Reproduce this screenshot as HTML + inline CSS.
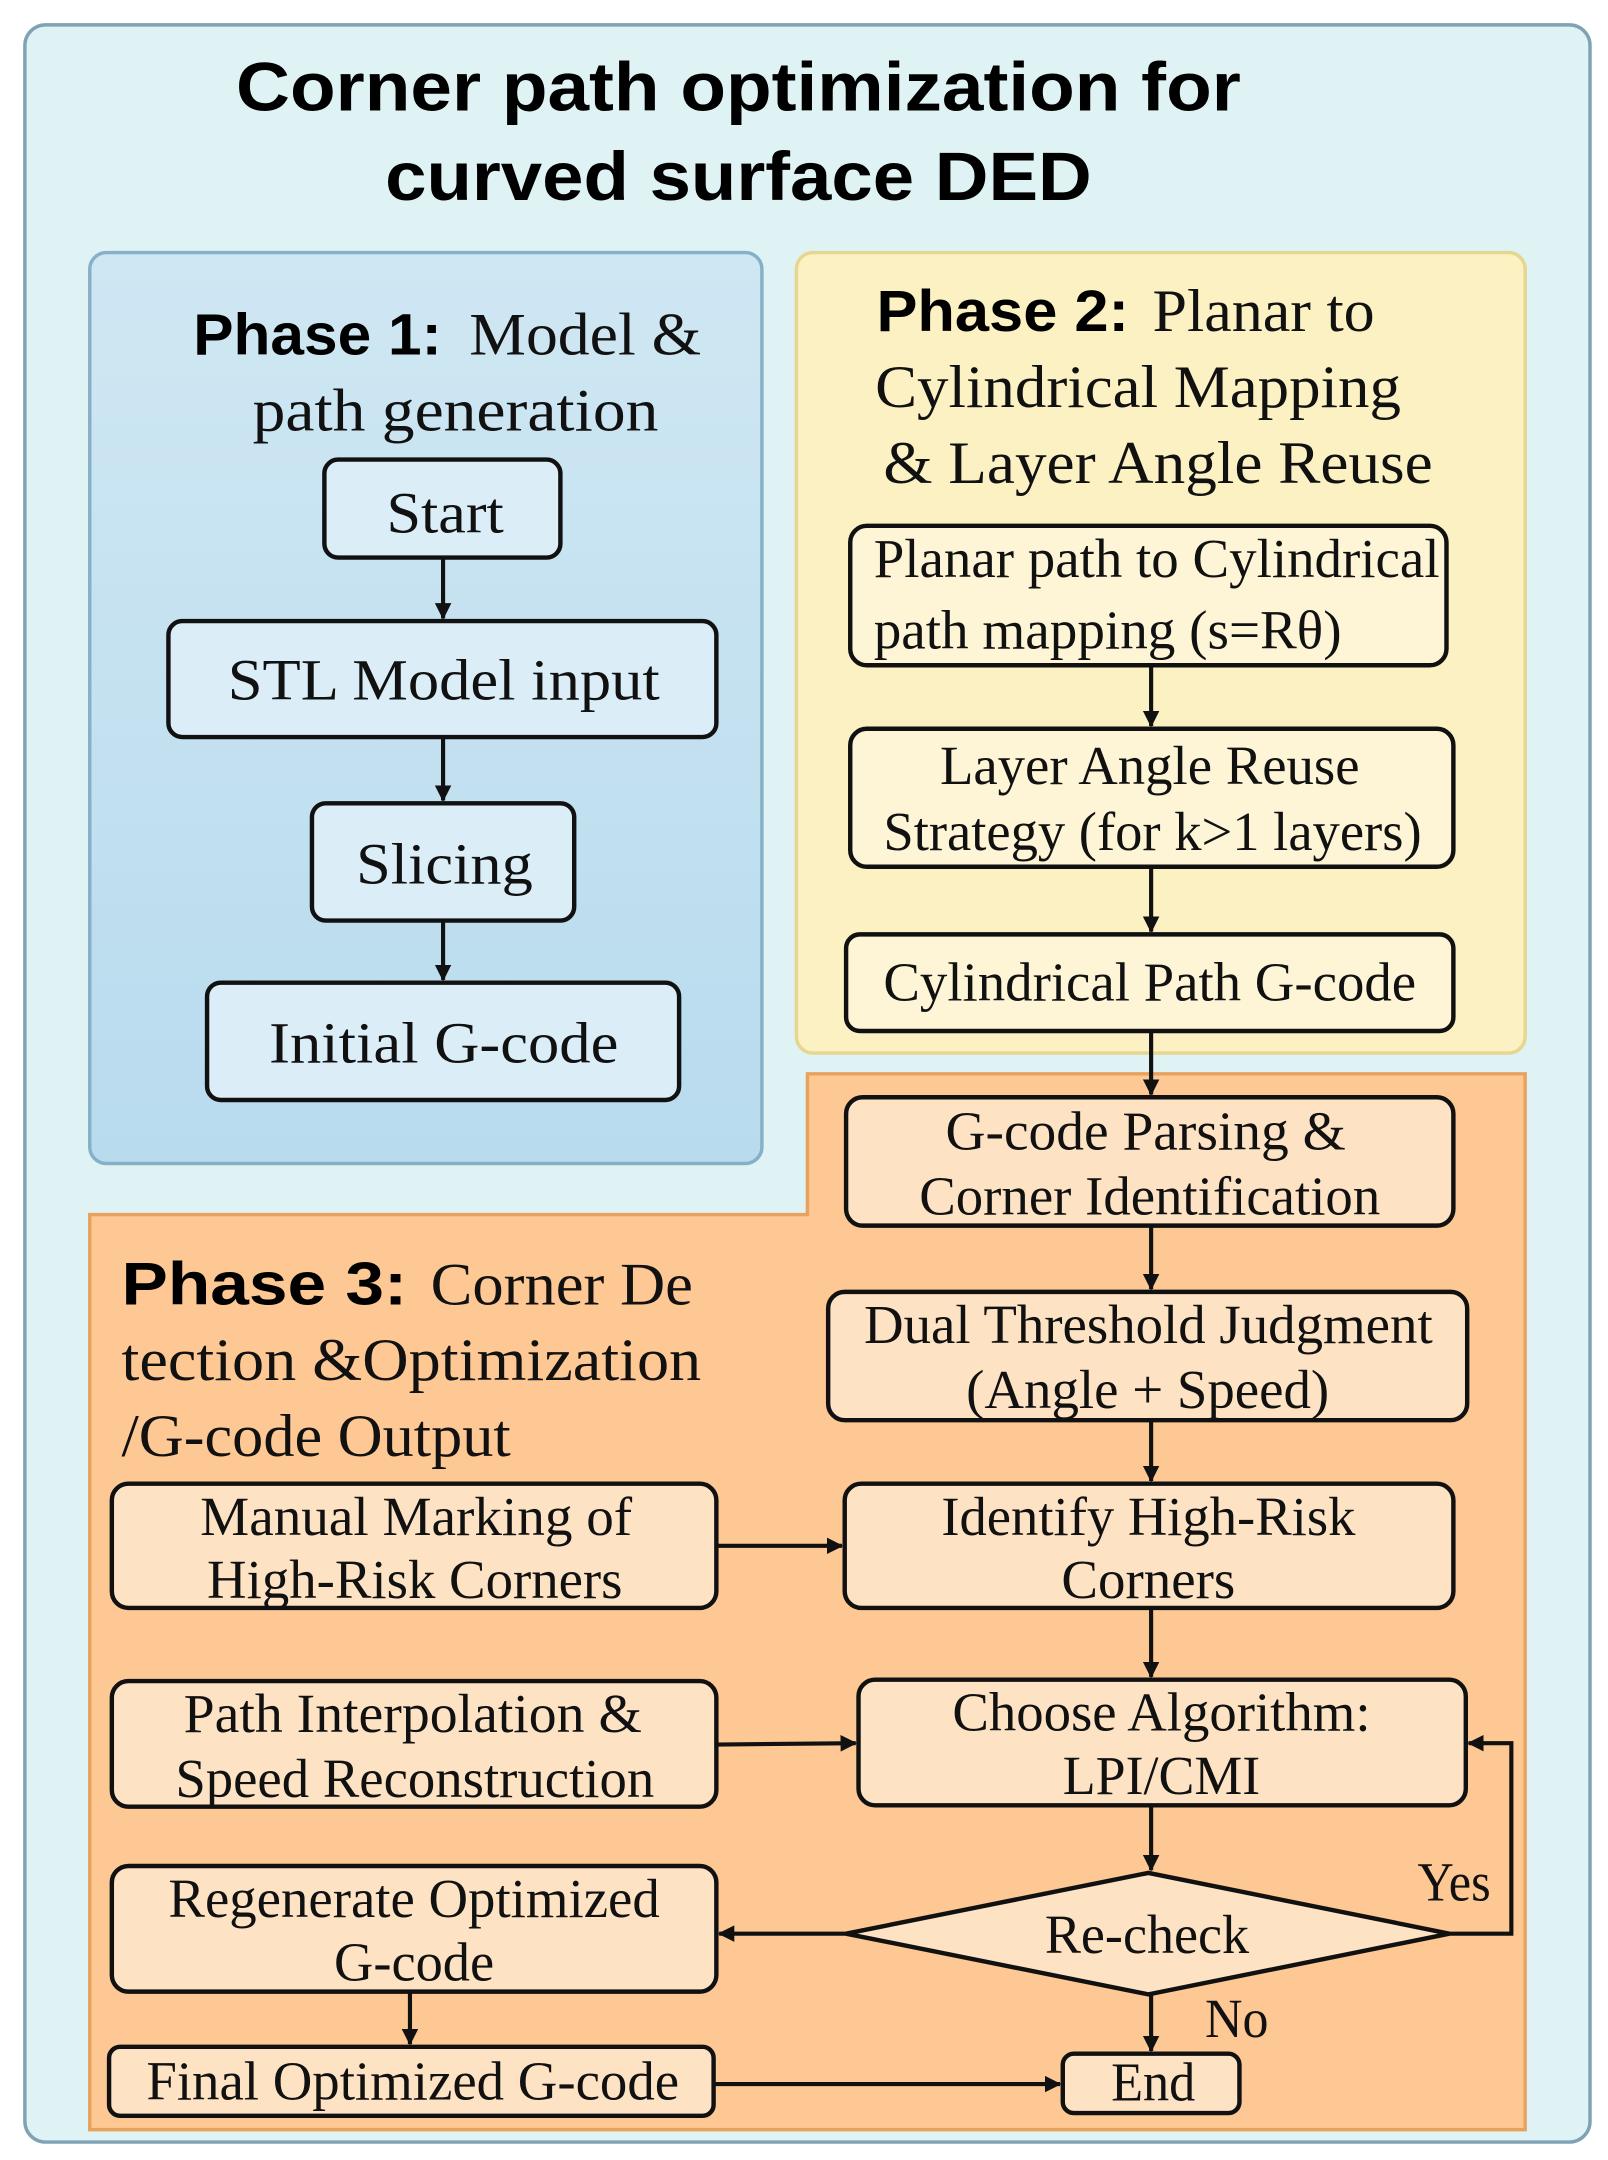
<!DOCTYPE html>
<html><head><meta charset="utf-8"><style>
html,body{margin:0;padding:0;background:#fff;}
svg{display:block;}
.t{font-family:"Liberation Serif",serif;fill:#111;}
.b{font-family:"Liberation Sans",sans-serif;font-weight:bold;fill:#000;}
.box{stroke:#111;stroke-width:3.2;}
.ln{stroke:#111;stroke-width:3;fill:none;}
</style></head><body>
<svg width="1608" height="2160" viewBox="0 0 1165 1565" xmlns="http://www.w3.org/2000/svg">
<defs>
<marker id="a" markerWidth="12" markerHeight="12" refX="11" refY="6" orient="auto" markerUnits="userSpaceOnUse"><path d="M0,0 L12,6 L0,12 z" fill="#111"/></marker>
<linearGradient id="g1" x1="0" y1="0" x2="0" y2="1"><stop offset="0" stop-color="#cfe7f3"/><stop offset="1" stop-color="#b8dbee"/></linearGradient>
</defs>
<rect x="0" y="0" width="1165" height="1565" fill="#fff"/>
<rect x="18" y="18" width="1134" height="1534" rx="15" fill="#dff3f5" stroke="#7fa3b5" stroke-width="2.5"/>
<text class="b" x="535" y="80" font-size="50" text-anchor="middle" textLength="728" lengthAdjust="spacingAndGlyphs">Corner path optimization for</text>
<text class="b" x="535" y="145" font-size="50" text-anchor="middle" textLength="512" lengthAdjust="spacingAndGlyphs">curved surface DED</text>

<!-- Phase 1 -->
<rect x="65" y="183" width="487" height="660" rx="12" fill="url(#g1)" stroke="#86b0c8" stroke-width="2.5"/>
<text class="b" x="140" y="257" font-size="42" textLength="180" lengthAdjust="spacingAndGlyphs">Phase 1:</text>
<text class="t" x="340" y="257" font-size="44" textLength="168" lengthAdjust="spacingAndGlyphs">Model &amp;</text>
<text class="t" x="183" y="312" font-size="44" textLength="294" lengthAdjust="spacingAndGlyphs">path  generation</text>
<rect class="box" x="235" y="333" width="171" height="71" rx="10" fill="#dbeef8"/>
<text class="t" x="280" y="386" font-size="42" textLength="85" lengthAdjust="spacingAndGlyphs">Start</text>
<rect class="box" x="122" y="450" width="397" height="84" rx="10" fill="#dbeef8"/>
<text class="t" x="165" y="507" font-size="42" textLength="313" lengthAdjust="spacingAndGlyphs">STL Model input</text>
<rect class="box" x="226" y="582" width="190" height="85" rx="10" fill="#dbeef8"/>
<text class="t" x="258" y="640" font-size="42" textLength="128" lengthAdjust="spacingAndGlyphs">Slicing</text>
<rect class="box" x="150" y="712" width="342" height="85" rx="10" fill="#dbeef8"/>
<text class="t" x="195" y="770" font-size="42" textLength="253" lengthAdjust="spacingAndGlyphs">Initial G-code</text>
<line class="ln" x1="321" y1="404" x2="321" y2="448" marker-end="url(#a)"/>
<line class="ln" x1="321" y1="534" x2="321" y2="580" marker-end="url(#a)"/>
<line class="ln" x1="321" y1="667" x2="321" y2="710" marker-end="url(#a)"/>

<!-- Phase 2 -->
<rect x="577" y="183" width="528" height="580" rx="12" fill="#fbf1c3" stroke="#e6d68f" stroke-width="2.5"/>
<text class="b" x="635" y="240" font-size="42" textLength="183" lengthAdjust="spacingAndGlyphs">Phase 2:</text>
<text class="t" x="835" y="240" font-size="44" textLength="161" lengthAdjust="spacingAndGlyphs">Planar to</text>
<text class="t" x="634" y="295" font-size="44" textLength="381" lengthAdjust="spacingAndGlyphs">Cylindrical Mapping</text>
<text class="t" x="640" y="350" font-size="44" textLength="398" lengthAdjust="spacingAndGlyphs">&amp; Layer Angle Reuse</text>
<rect class="box" x="616" y="381" width="432" height="101" rx="12" fill="#fdf5d6"/>
<text class="t" x="633" y="418" font-size="40" textLength="410" lengthAdjust="spacingAndGlyphs">Planar path to Cylindrical</text>
<text class="t" x="633" y="470" font-size="40" textLength="339" lengthAdjust="spacingAndGlyphs">path mapping (s=Rθ)</text>
<rect class="box" x="616" y="528" width="437" height="100" rx="12" fill="#fdf5d6"/>
<text class="t" x="681" y="568" font-size="40" textLength="304" lengthAdjust="spacingAndGlyphs">Layer Angle Reuse</text>
<text class="t" x="640" y="616" font-size="40" textLength="390" lengthAdjust="spacingAndGlyphs">Strategy (for k&gt;1 layers)</text>
<rect class="box" x="613" y="677" width="440" height="70" rx="10" fill="#fdf5d6"/>
<text class="t" x="640" y="725" font-size="40" textLength="386" lengthAdjust="spacingAndGlyphs">Cylindrical Path G-code</text>
<line class="ln" x1="834" y1="482" x2="834" y2="526" marker-end="url(#a)"/>
<line class="ln" x1="834" y1="628" x2="834" y2="675" marker-end="url(#a)"/>

<!-- Phase 3 -->
<path d="M585,778 L1105,778 L1105,1543 L65,1543 L65,880 L585,880 Z" fill="#fdc893" stroke="#e8a25e" stroke-width="2.5"/>
<text class="b" x="88" y="945" font-size="44" textLength="207" lengthAdjust="spacingAndGlyphs">Phase 3:</text>
<text class="t" x="312" y="945" font-size="44" textLength="190" lengthAdjust="spacingAndGlyphs">Corner De</text>
<text class="t" x="88" y="1000" font-size="44" textLength="420" lengthAdjust="spacingAndGlyphs">tection &amp;Optimization</text>
<text class="t" x="88" y="1055" font-size="44" textLength="282" lengthAdjust="spacingAndGlyphs">/G-code Output</text>

<line class="ln" x1="834" y1="747" x2="834" y2="793" marker-end="url(#a)"/>
<rect class="box" x="613" y="795" width="440" height="93" rx="12" fill="#fde3c4"/>
<text class="t" x="685" y="833" font-size="40" textLength="290" lengthAdjust="spacingAndGlyphs">G-code Parsing &amp;</text>
<text class="t" x="666" y="880" font-size="40" textLength="334" lengthAdjust="spacingAndGlyphs">Corner Identification</text>
<line class="ln" x1="834" y1="888" x2="834" y2="934" marker-end="url(#a)"/>
<rect class="box" x="600" y="936" width="463" height="93" rx="12" fill="#fde3c4"/>
<text class="t" x="626" y="973" font-size="40" textLength="412" lengthAdjust="spacingAndGlyphs">Dual Threshold Judgment</text>
<text class="t" x="700" y="1020" font-size="40" textLength="263" lengthAdjust="spacingAndGlyphs">(Angle + Speed)</text>
<line class="ln" x1="834" y1="1029" x2="834" y2="1073" marker-end="url(#a)"/>
<rect class="box" x="612" y="1075" width="441" height="90" rx="12" fill="#fde3c4"/>
<text class="t" x="682" y="1112" font-size="40" textLength="300" lengthAdjust="spacingAndGlyphs">Identify High-Risk</text>
<text class="t" x="769" y="1158" font-size="40" textLength="126" lengthAdjust="spacingAndGlyphs">Corners</text>
<line class="ln" x1="834" y1="1165" x2="834" y2="1215" marker-end="url(#a)"/>
<rect class="box" x="622" y="1217" width="440" height="91" rx="12" fill="#fde3c4"/>
<text class="t" x="690" y="1254" font-size="40" textLength="303" lengthAdjust="spacingAndGlyphs">Choose Algorithm:</text>
<text class="t" x="770" y="1300" font-size="40" textLength="143" lengthAdjust="spacingAndGlyphs">LPI/CMI</text>
<line class="ln" x1="834" y1="1308" x2="834" y2="1355" marker-end="url(#a)"/>
<polygon class="box" points="613,1401 832,1357 1050,1401 832,1445" fill="#fde3c4"/>
<text class="t" x="757" y="1415" font-size="40" textLength="148" lengthAdjust="spacingAndGlyphs">Re-check</text>
<polyline class="ln" points="1050,1401 1095,1401 1095,1263 1064,1263" marker-end="url(#a)"/>
<text class="t" x="1027" y="1377" font-size="40" textLength="53" lengthAdjust="spacingAndGlyphs">Yes</text>
<line class="ln" x1="834" y1="1445" x2="834" y2="1486" marker-end="url(#a)"/>
<text class="t" x="873" y="1476" font-size="40" textLength="46" lengthAdjust="spacingAndGlyphs">No</text>
<rect class="box" x="770" y="1488" width="128" height="43" rx="8" fill="#fde3c4"/>
<text class="t" x="805" y="1522" font-size="40" textLength="61" lengthAdjust="spacingAndGlyphs">End</text>

<rect class="box" x="81" y="1075" width="438" height="90" rx="12" fill="#fde3c4"/>
<text class="t" x="145" y="1112" font-size="40" textLength="313" lengthAdjust="spacingAndGlyphs">Manual Marking of</text>
<text class="t" x="150" y="1158" font-size="40" textLength="301" lengthAdjust="spacingAndGlyphs">High-Risk Corners</text>
<line class="ln" x1="519" y1="1120" x2="610" y2="1120" marker-end="url(#a)"/>
<rect class="box" x="81" y="1218" width="438" height="91" rx="12" fill="#fde3c4"/>
<text class="t" x="133" y="1255" font-size="40" textLength="332" lengthAdjust="spacingAndGlyphs">Path Interpolation &amp;</text>
<text class="t" x="127" y="1302" font-size="40" textLength="347" lengthAdjust="spacingAndGlyphs">Speed Reconstruction</text>
<line class="ln" x1="519" y1="1264" x2="620" y2="1263" marker-end="url(#a)"/>
<rect class="box" x="81" y="1352" width="438" height="91" rx="12" fill="#fde3c4"/>
<text class="t" x="122" y="1389" font-size="40" textLength="356" lengthAdjust="spacingAndGlyphs">Regenerate Optimized</text>
<text class="t" x="242" y="1435" font-size="40" textLength="116" lengthAdjust="spacingAndGlyphs">G-code</text>
<line class="ln" x1="613" y1="1401" x2="521" y2="1401" marker-end="url(#a)"/>
<line class="ln" x1="297" y1="1443" x2="297" y2="1481" marker-end="url(#a)"/>
<rect class="box" x="79" y="1483" width="438" height="50" rx="8" fill="#fde3c4"/>
<text class="t" x="106" y="1521" font-size="40" textLength="386" lengthAdjust="spacingAndGlyphs">Final Optimized G-code</text>
<line class="ln" x1="517" y1="1510" x2="768" y2="1510" marker-end="url(#a)"/>
</svg>
</body></html>
